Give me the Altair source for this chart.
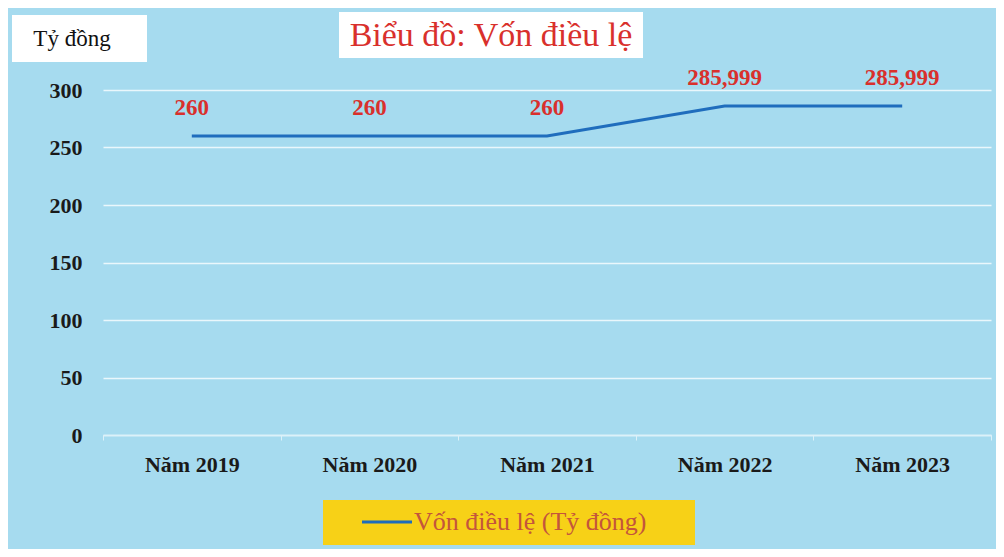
import altair as alt
import pandas as pd

years = ["Năm 2019", "Năm 2020", "Năm 2021", "Năm 2022", "Năm 2023"]
values = [260, 260, 260, 285.999, 285.999]
labels = ["260", "260", "260", "285,999", "285,999"]
series_name = "Vốn điều lệ (Tỷ đồng)"
y_ticks = [0, 50, 100, 150, 200, 250, 300]
title_text = "Biểu đồ: Vốn điều lệ"
unit_text = "Tỷ đồng"

df = pd.DataFrame({
    "year": years,
    "value": values,
    "label": labels,
})

SERIF = "Liberation Serif"
BG = "#a6dbef"
LINE = "#1f6dbd"
RED = "#d9302c"

x_enc = alt.X(
    "year:N",
    sort=years,
    bandPosition=0.5,
    scale=alt.Scale(type="band", paddingInner=0, paddingOuter=0),
    axis=alt.Axis(
        title=None, labelAngle=0, tickBand="extent",
        labelFont=SERIF, labelFontSize=22, labelFontWeight="bold", labelColor="#1a1a1a",
        domainColor="#dcf1f9", domainWidth=1.5, tickColor="#dcf1f9", tickSize=5,
        labelPadding=14, grid=False,
    ),
)
y_enc = alt.Y(
    "value:Q",
    scale=alt.Scale(domain=[0, 300], nice=False),
    axis=alt.Axis(
        title=None, values=y_ticks, domain=False, ticks=False,
        labelFont=SERIF, labelFontSize=22, labelFontWeight="bold", labelColor="#1a1a1a",
        labelPadding=21, gridColor="#eaf7fc", gridWidth=1.5,
    ),
)

base = alt.Chart(df)

line = base.mark_line(strokeWidth=3, color=LINE).encode(x=x_enc, y=y_enc)

text = base.mark_text(
    dy=-28, font=SERIF, fontSize=23, fontWeight="bold", color=RED
).encode(x=x_enc, y=y_enc, text="label:N")

title_df = pd.DataFrame({"t": [title_text]})
title_box = alt.Chart(title_df).mark_rect(color="white").encode(
    x=alt.value(236), x2=alt.value(540), y=alt.value(-78), y2=alt.value(-32)
)
title_mark = alt.Chart(title_df).mark_text(
    font=SERIF, fontSize=34, color=RED, align="center", baseline="middle"
).encode(x=alt.value(388), y=alt.value(-54), text="t:N")

unit_df = pd.DataFrame({"t": [unit_text]})
unit_box = alt.Chart(unit_df).mark_rect(color="white").encode(
    x=alt.value(-91), x2=alt.value(44), y=alt.value(-75), y2=alt.value(-28)
)
unit_mark = alt.Chart(unit_df).mark_text(
    font=SERIF, fontSize=23, color="#111111", align="center", baseline="middle"
).encode(x=alt.value(-31), y=alt.value(-51), text="t:N")

legend_df = pd.DataFrame({"t": [series_name]})
legend_box = alt.Chart(legend_df).mark_rect(color="#f7d117").encode(
    x=alt.value(220), x2=alt.value(592), y=alt.value(410), y2=alt.value(455)
)
legend_line = alt.Chart(legend_df).mark_rule(color=LINE, strokeWidth=3).encode(
    x=alt.value(259), x2=alt.value(309), y=alt.value(432)
)
legend_text = alt.Chart(legend_df).mark_text(
    font=SERIF, fontSize=26, color="#c4553c", align="left", baseline="middle"
).encode(x=alt.value(311), y=alt.value(432), text="t:N")

chart = alt.layer(
    title_box, title_mark, unit_box, unit_mark,
    legend_box, legend_line, legend_text,
    line, text,
).properties(
    width=888, height=345,
    background=BG,
    padding={"left": 95, "top": 82, "right": 5, "bottom": 114},
    autosize=alt.AutoSizeParams(type="none"),
).configure_view(stroke=None)

chart.save("out.html", embed_options={"renderer": "svg", "actions": False})
